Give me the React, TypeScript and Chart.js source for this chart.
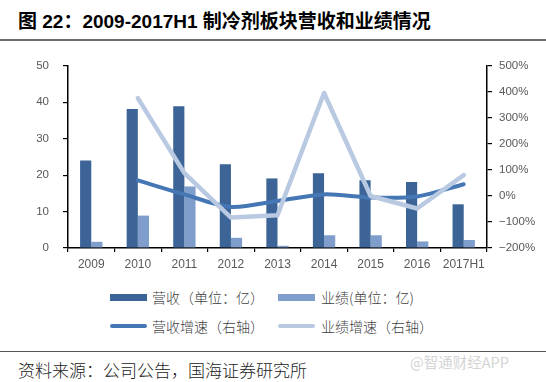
import React, { useEffect, useRef } from "react";
import { Chart, registerables } from "chart.js";

Chart.register(...registerables);

const categories = ["2009", "2010", "2011", "2012", "2013", "2014", "2015", "2016", "2017H1"];
const revenue = [24.0, 38.2, 38.9, 23.0, 19.1, 20.5, 18.6, 18.1, 12.0];
const profit = [1.7, 8.9, 16.9, 2.8, 0.6, 3.5, 3.5, 1.8, 2.2];
const revenueGrowth = [null, 60, 6, -42, -19, 6, -6, -2, 45];
const profitGrowth = [null, 376, 88, -83, -74, 396, 0, -48, 80];

const seriesNames = ["营收（单位：亿）", "业绩(单位：亿)", "营收增速（右轴）", "业绩增速（右轴）"];
const colors = ["#3C6496", "#7F9ECB", "#4677B5", "#B8C9E1"];

const AXIS_FONT = "'Liberation Sans', Arial, sans-serif";
const CJK_FONT = "'Liberation Sans', 'Noto Sans CJK SC', sans-serif";

export default function App() {
  const ref = useRef<HTMLCanvasElement | null>(null);

  useEffect(() => {
    if (!ref.current) return;
    const chart = new Chart(ref.current, {
      type: "bar",
      data: {
        labels: categories,
        datasets: [
          {
            type: "bar",
            label: seriesNames[0],
            data: revenue,
            backgroundColor: colors[0],
            yAxisID: "y",
            order: 3,
            barPercentage: 1,
            categoryPercentage: 0.48,
          },
          {
            type: "bar",
            label: seriesNames[1],
            data: profit,
            backgroundColor: colors[1],
            yAxisID: "y",
            order: 3,
            barPercentage: 1,
            categoryPercentage: 0.48,
          },
          {
            type: "line",
            label: seriesNames[2],
            data: revenueGrowth as any,
            borderColor: colors[2],
            backgroundColor: colors[2],
            borderWidth: 4,
            pointRadius: 0,
            tension: 0.3,
            yAxisID: "y1",
            order: 2,
            borderCapStyle: "round",
            borderJoinStyle: "round",
          },
          {
            type: "line",
            label: seriesNames[3],
            data: profitGrowth as any,
            borderColor: colors[3],
            backgroundColor: colors[3],
            borderWidth: 4.5,
            pointRadius: 0,
            tension: 0,
            yAxisID: "y1",
            order: 1,
            borderCapStyle: "round",
            borderJoinStyle: "round",
          },
        ],
      },
      options: {
        animation: false,
        responsive: false,
        maintainAspectRatio: false,
        layout: { padding: { top: 0, left: 0, right: 0, bottom: 0 } },
        plugins: { legend: { display: false }, tooltip: { enabled: false } },
        scales: {
          x: {
            offset: true,
            grid: {
              display: true,
              offset: true,
              drawOnChartArea: false,
              drawTicks: true,
              tickLength: 4,
              color: "#000",
              lineWidth: 1.2,
            },
            border: { display: true, color: "#000", width: 1.5 },
            ticks: {
              font: { family: AXIS_FONT, size: 12 },
              color: "#595959",
              padding: 5,
              maxRotation: 0,
              autoSkip: false,
            },
            afterFit: (s: any) => {
              s.height = 32;
            },
          },
          y: {
            position: "left",
            min: 0,
            max: 50,
            ticks: {
              stepSize: 10,
              font: { family: AXIS_FONT, size: 11.5 },
              color: "#595959",
              padding: 14,
            },
            grid: {
              display: true,
              drawOnChartArea: false,
              drawTicks: true,
              tickLength: 5,
              color: "#000",
              lineWidth: 1.2,
            },
            border: { display: true, color: "#000", width: 1.5 },
            afterFit: (s: any) => {
              s.width = 68;
            },
          },
          y1: {
            position: "right",
            min: -200,
            max: 500,
            ticks: {
              stepSize: 100,
              font: { family: AXIS_FONT, size: 11.5 },
              color: "#595959",
              padding: 7,
              callback: (v: any) => (v < 0 ? "\u2212" + Math.abs(v) : String(v)) + "%",
            },
            grid: {
              display: true,
              drawOnChartArea: false,
              drawTicks: true,
              tickLength: 5,
              color: "#000",
              lineWidth: 1.2,
            },
            border: { display: true, color: "#000", width: 1.5 },
            afterFit: (s: any) => {
              s.width = 59;
            },
          },
        },
      },
    });
    return () => chart.destroy();
  }, []);

  const legendText: React.CSSProperties = {
    position: "absolute",
    fontFamily: "'Noto Sans CJK SC', sans-serif",
    fontWeight: 300,
    fontSize: 14,
    lineHeight: "16px",
    color: "#404040",
    whiteSpace: "nowrap",
  };

  return (
    <div
      style={{
        position: "absolute",
        left: 0,
        top: 0,
        width: 546,
        height: 382,
        background: "#fff",
        overflow: "hidden",
      }}
    >
      <div
        style={{
          position: "absolute",
          left: 18,
          top: 12,
          fontFamily: CJK_FONT,
          fontWeight: "bold",
          fontSize: 19,
          lineHeight: "20px",
          color: "#000",
          whiteSpace: "nowrap",
        }}
      >
        图 22：2009-2017H1 制冷剂板块营收和业绩情况
      </div>
      <div style={{ position: "absolute", left: 0, top: 39, width: 546, height: 2, background: "#6f6f6f" }} />

      <canvas
        ref={ref}
        width={546}
        height={235}
        style={{ position: "absolute", left: 0, top: 45, width: 546, height: 235 }}
      />

      {/* legend row 1 */}
      <div style={{ position: "absolute", left: 110, top: 293.5, width: 37, height: 7, background: colors[0] }} />
      <div style={{ ...legendText, left: 152, top: 289 }}>{seriesNames[0]}</div>
      <div style={{ position: "absolute", left: 278, top: 293.5, width: 37, height: 7, background: colors[1] }} />
      <div style={{ ...legendText, left: 321, top: 289 }}>{seriesNames[1]}</div>
      {/* legend row 2 */}
      <div
        style={{
          position: "absolute",
          left: 110,
          top: 324,
          width: 37,
          height: 4,
          borderRadius: 2,
          background: colors[2],
        }}
      />
      <div style={{ ...legendText, left: 152, top: 318 }}>{seriesNames[2]}</div>
      <div
        style={{
          position: "absolute",
          left: 278,
          top: 324,
          width: 37,
          height: 4,
          borderRadius: 2,
          background: colors[3],
        }}
      />
      <div style={{ ...legendText, left: 321, top: 318 }}>{seriesNames[3]}</div>

      <div style={{ position: "absolute", left: 0, top: 350.5, width: 546, height: 1.5, background: "#555" }} />
      <div
        style={{
          position: "absolute",
          left: 18,
          top: 360,
          fontFamily: "'Noto Sans CJK SC', sans-serif",
          fontWeight: 300,
          fontSize: 17,
          lineHeight: "19px",
          color: "#222",
          whiteSpace: "nowrap",
        }}
      >
        资料来源：公司公告，国海证券研究所
      </div>
      <div
        style={{
          position: "absolute",
          left: 410,
          top: 354,
          fontFamily: "'Noto Sans CJK SC', sans-serif",
          fontSize: 14.5,
          lineHeight: "16px",
          color: "#d4d4d4",
          whiteSpace: "nowrap",
        }}
      >
        @智通财经APP
      </div>
    </div>
  );
}
